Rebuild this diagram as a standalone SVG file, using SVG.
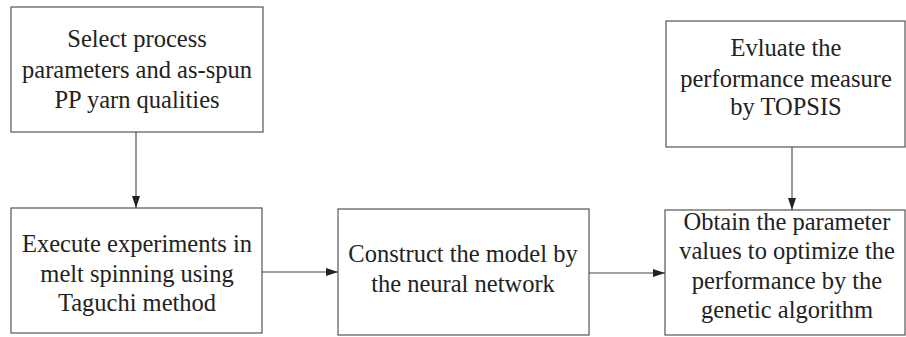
<svg xmlns="http://www.w3.org/2000/svg" width="906" height="337" viewBox="0 0 906 337">
<style>
.box{fill:#fff;stroke:#555;stroke-width:1.2}
.t{font-family:"Liberation Serif","Times New Roman",serif;font-size:24.5px;fill:#222;text-anchor:middle}
.c{stroke:#444;stroke-width:1.1;fill:none;marker-end:url(#ah)}
</style>
<defs>
<marker id="ah" markerWidth="12" markerHeight="8" refX="12" refY="4" orient="auto" markerUnits="userSpaceOnUse">
<path d="M0,0 L12,4 L0,8 Z" fill="#222"/>
</marker>
</defs>
<rect width="906" height="337" fill="#fff"/>
<g id="n1">
<rect class="box" x="11" y="7" width="252" height="125"/>
<text class="t" x="137" y="47">Select process</text>
<text class="t" x="137" y="78">parameters and as-spun</text>
<text class="t" x="137" y="108">PP yarn qualities</text>
</g>
<g id="n2">
<rect class="box" x="11" y="208" width="251" height="125"/>
<text class="t" x="137" y="252">Execute experiments in</text>
<text class="t" x="137" y="282">melt spinning using</text>
<text class="t" x="137" y="311">Taguchi method</text>
</g>
<g id="n3">
<rect class="box" x="338" y="209" width="251" height="126"/>
<text class="t" x="463" y="262">Construct the model by</text>
<text class="t" x="463" y="292">the neural network</text>
</g>
<g id="n4">
<rect class="box" x="666" y="21" width="239" height="126"/>
<text class="t" x="786" y="56">Evluate the</text>
<text class="t" x="786" y="87">performance measure</text>
<text class="t" x="786" y="115">by TOPSIS</text>
</g>
<g id="n5">
<rect class="box" x="665" y="210" width="240" height="125"/>
<text class="t" x="787" y="230">Obtain the parameter</text>
<text class="t" x="787" y="259">values to optimize the</text>
<text class="t" x="787" y="289">performance by the</text>
<text class="t" x="787" y="318">genetic algorithm</text>
</g>
<g id="connectors">
<line class="c" x1="136" y1="132" x2="136" y2="208"/>
<line class="c" x1="262" y1="272" x2="338" y2="272"/>
<line class="c" x1="589" y1="273" x2="665" y2="273"/>
<line class="c" x1="792" y1="147" x2="792" y2="210"/>
</g>
</svg>
